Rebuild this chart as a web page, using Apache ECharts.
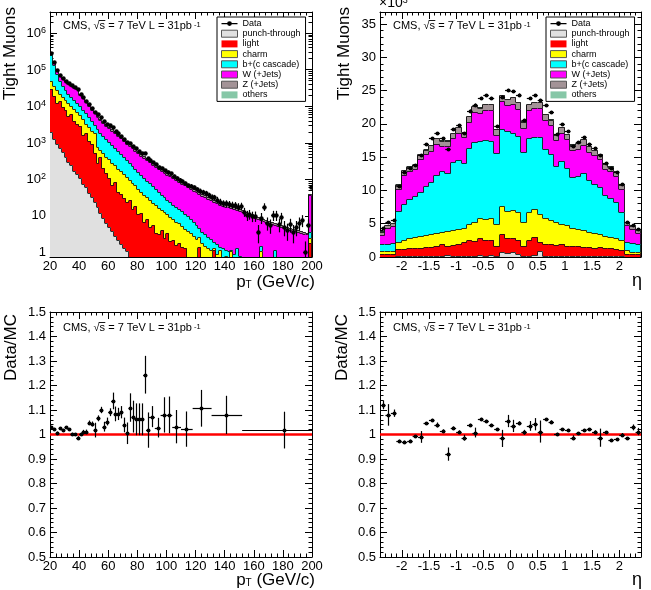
<!DOCTYPE html>
<html>
<head>
<meta charset="utf-8">
<title>Tight muons</title>
<script src="https://cdn.jsdelivr.net/npm/echarts@6/dist/echarts.min.js"></script>
<style>
  html, body { margin: 0; padding: 0; background: #fff; }
  #chart { width: 651px; height: 590px; }
</style>
</head>
<body>
<div id="chart"></div>
<script>
var FONT = "'Liberation Sans', Arial, Helvetica, sans-serif";

// ---------- pT spectrum: 2 GeV bins from 20 to 200 (last bin holds the overflow) ----------
var ptEdges = [];
for (var e = 20; e <= 200; e += 2) ptEdges.push(e);

var ptData = [2.88e5, 1.58e5, 9.55e4, 7.2e4, 5.8e4, 5.05e4, 4.4e4, 3.8e4, 3.4e4, 2.96e4,
  2.2e4, 1.77e4, 1.42e4, 1.15e4, 8970, 7020, 5970, 5060, 3920, 3370,
  3000, 2670, 2170, 1840, 1580, 1290, 1065, 1010, 837, 711,
  611, 526, 532, 379, 346, 290, 266, 222, 206, 175,
  162, 145, 124, 110, 99, 88, 78, 68, 66, 60,
  53, 49, 45, 42, 37, 33, 32, 28, 24.5, 22,
  22, 21, 20, 19.5, 18, 18.6, 13, 10.5, 11.2, 9.9,
  10, 3.7, 9, 17.9, 6.5, 5.6, 10.5, 10.5, 6, 9.1,
  5, 4.1, 5.9, 3.7, 5, 6.5, 7.7, 1, 5.6, 63];

// stacked MC heights (top edge of each layer, as drawn)
var ptPunch = [2000, 1300, 900, 700, 550, 420, 300, 240, 170, 140,
  110, 75, 60, 42, 32, 24, 17, 12, 9, 6.5,
  5, 3.8, 2.8, 2.2, 1.7, 1.3, 1.1, 0.5, 0.5, 0.5,
  0.5, 0.5, 0.5, 0.5, 0.5, 0.5, 0.5, 0.5, 0.5, 0.5,
  0.5, 0.5, 0.5, 0.5, 0.5, 0.5, 0.5, 0.5, 0.5, 0.5,
  0.5, 0.5, 0.5, 0.5, 0.5, 0.5, 0.5, 0.5, 0.5, 0.5,
  0.5, 0.5, 0.5, 0.5, 0.5, 0.5, 0.5, 0.5, 0.5, 0.5,
  0.5, 0.5, 0.5, 0.5, 0.5, 0.5, 0.5, 0.5, 0.5, 0.5,
  0.5, 0.5, 0.5, 0.5, 0.5, 0.5, 0.5, 0.5, 0.5, 0.5];
var ptLight = [2.9e4, 1.9e4, 1.2e4, 1.4e4, 9500, 8000, 5500, 6000, 4000, 3200,
  2800, 1600, 1900, 1100, 900, 520, 280, 420, 210, 150,
  110, 70, 85, 45, 40, 30, 24, 27, 15, 19,
  11, 12, 7, 8, 5, 5.5, 3.5, 3.2, 4.0, 2.5,
  3.3, 2.0, 2.2, 1.6, 1.8, 1.4, 1.3, 0.6, 0.5, 0.5,
  0.5, 1.4, 0.4, 0.4, 0.4, 0.4, 1.2, 0.3, 0.3, 0.3,
  0.3, 0.3, 0.3, 0.3, 0.3, 0.3, 0.3, 0.3, 0.3, 0.3,
  0.3, 0.3, 0.3, 0.3, 0.3, 0.3, 0.3, 0.3, 0.3, 0.3,
  0.3, 0.3, 0.3, 0.3, 0.3, 0.3, 0.3, 0.3, 0.3, 1.8];
var ptCharm = [5.0e4, 3.7e4, 2.8e4, 2.2e4, 1.8e4, 1.45e4, 1.2e4, 1.0e4, 8300, 6900,
  5600, 4400, 3300, 2700, 2100, 1800, 780, 640, 520, 420,
  350, 285, 240, 195, 165, 140, 115, 98, 80, 68,
  55, 46, 38, 32, 27, 22, 19.5, 16.5, 14.5, 12.5,
  11, 9.5, 8.2, 7, 6.2, 5.3, 4.4, 3.8, 3.3, 2.9,
  2.3, 2.6, 1.8, 1.5, 1.3, 1.15, 1.3, 0.9, 1.2, 0.6,
  0.8, 0.5, 1.1, 0.4, 0.3, 0.3, 0.3, 0.3, 0.3, 0.3,
  0.3, 0.3, 1.1, 0.3, 0.3, 0.3, 0.3, 0.3, 0.3, 0.3,
  0.3, 0.3, 0.3, 0.3, 0.3, 0.3, 0.3, 0.3, 0.3, 2.5];
var ptBottom = [2.6e5, 1.38e5, 7.6e4, 4.8e4, 3.5e4, 2.75e4, 2.2e4, 1.8e4, 1.5e4, 1.26e4,
  9900, 8000, 6600, 5100, 3900, 3000, 2350, 1900, 1500, 1250,
  1050, 870, 720, 595, 490, 410, 340, 282, 234, 194,
  161, 134, 111, 93, 78, 65, 54, 46, 38, 32,
  27, 23.5, 20.4, 17.7, 15.4, 13.3, 11.6, 9.7, 8.1, 6.7,
  5.6, 4.6, 3.7, 3.1, 2.7, 2.3, 1.95, 1.65, 1.4, 1.3,
  1.2, 1.1, 1.2, 0.9, 1.3, 0.8, 0.6, 0.5, 0.5, 0.7,
  0.4, 0.4, 1.5, 0.5, 0.4, 0.3, 0.3, 1.2, 0.3, 0.3,
  0.3, 0.3, 0.3, 0.3, 0.3, 0.3, 0.3, 0.3, 0.3, 3.7];
var ptW = [2.72e5, 1.5e5, 9.2e4, 6.7e4, 5.5e4, 4.7e4, 4.1e4, 3.65e4, 3.25e4, 2.9e4,
  2.07e4, 1.65e4, 1.32e4, 1.03e4, 8100, 6500, 5150, 4230, 3500, 2940,
  2530, 2160, 1840, 1560, 1330, 1140, 955, 820, 700, 603,
  518, 446, 385, 335, 291, 254, 222, 195, 172, 152,
  135, 121, 108, 96, 86, 76, 68, 61, 55, 49,
  44.5, 40, 36, 32.5, 29.5, 27, 24.5, 22.5, 20.5, 19.2,
  18, 17.2, 16.4, 15.5, 14.6, 13.6, 12.6, 11.5, 10.6, 9.7,
  9.0, 8.4, 7.8, 7.3, 6.9, 6.4, 6.0, 5.6, 5.3, 5.0,
  4.65, 4.4, 4.2, 3.95, 3.75, 3.55, 3.4, 3.2, 3.1, 37];
var ptZ = [2.77e5, 1.53e5, 9.4e4, 6.9e4, 5.6e4, 4.85e4, 4.25e4, 3.76e4, 3.37e4, 2.97e4,
  2.18e4, 1.73e4, 1.39e4, 1.09e4, 8500, 6830, 5540, 4550, 3760, 3170,
  2720, 2330, 1980, 1680, 1435, 1228, 1050, 900, 772, 663,
  569, 490, 424, 368, 320, 279, 245, 215, 189, 167,
  148.5, 132.5, 119, 106, 95, 85, 76, 68.3, 61.4, 55.4,
  50, 45, 40.6, 36.6, 33.2, 30.2, 27.7, 25.2, 23.3, 21.6,
  20.3, 19.3, 18.4, 17.4, 16.4, 15.3, 14.15, 13, 11.9, 10.9,
  10.1, 9.4, 8.8, 8.2, 7.7, 7.2, 6.7, 6.35, 5.95, 5.6,
  5.25, 4.95, 4.7, 4.45, 4.2, 4.0, 3.8, 3.6, 3.45, 39.5];
var ptOthers = [2.8e5, 1.55e5, 9.5e4, 7.0e4, 5.7e4, 4.9e4, 4.3e4, 3.8e4, 3.4e4, 3.0e4,
  2.2e4, 1.75e4, 1.4e4, 1.1e4, 8600, 6900, 5600, 4600, 3800, 3200,
  2750, 2350, 2000, 1700, 1450, 1240, 1060, 910, 780, 670,
  575, 495, 428, 372, 323, 282, 247, 217, 191, 169,
  150, 134, 120, 107, 96, 86, 77, 69, 62, 56,
  50.5, 45.5, 41, 37, 33.5, 30.5, 28, 25.5, 23.5, 21.8,
  20.5, 19.5, 18.6, 17.6, 16.6, 15.5, 14.3, 13.1, 12.0, 11.0,
  10.2, 9.5, 8.9, 8.3, 7.8, 7.3, 6.8, 6.4, 6.0, 5.65,
  5.3, 5.0, 4.75, 4.5, 4.25, 4.05, 3.85, 3.65, 3.5, 40];

// ---------- eta distribution: 0.1 bins from -2.4 to 2.4, values in units of 10^3 ----------
var etaEdges = [];
for (var k = -24; k <= 24; k++) etaEdges.push(k / 10);

var etaData = [4.3, 5.2, 5.6, 10.6, 12.7, 13.3, 13.8, 15.3, 16.9, 17.8, 18.6, 17.8,
  16.2, 19.2, 19.8, 18.6, 22.0, 22.9, 23.9, 24.3, 23.9, 19.7, 24.1, 25.1,
  24.9, 24.4, 20.6, 23.9, 24.3, 23.6, 22.8, 21.8, 18.5, 19.95, 18.9, 16.7,
  17.2, 18.0, 17.0, 16.3, 15.3, 14.1, 13.3, 12.7, 10.9, 5.2, 4.8, 4.2];
var etaPunch = [0.05, 0.05, 0.05, 0.1, 0.1, 0.1, 0.1, 0.1, 0.1, 0.15, 0.1, 0.15,
  0.35, 0.1, 0.15, 0.15, 0.2, 0.2, 0.3, 0.2, 0.35, 0.2, 0.8, 0.6,
  0.7, 0.4, 0.2, 0.2, 0.3, 0.9, 0.2, 0.15, 0.15, 0.1, 0.15, 0.1,
  0.1, 0.1, 0.1, 0.1, 0.1, 0.1, 0.1, 0.1, 0.1, 0.05, 0.05, 0.05];
var etaLight = [0.45, 0.5, 0.5, 1.15, 1.2, 1.3, 1.3, 1.4, 1.45, 1.5, 1.6, 2.0,
  1.7, 1.8, 1.9, 2.2, 2.6, 2.4, 2.9, 2.5, 2.6, 1.6, 3.5, 2.8,
  2.9, 2.5, 1.7, 2.6, 3.0, 2.2, 2.0, 1.9, 1.8, 1.9, 1.7, 1.6,
  1.7, 1.5, 1.5, 1.4, 1.5, 1.3, 1.3, 1.2, 1.1, 0.5, 0.45, 0.4];
var etaCharm = [0.9, 0.9, 0.95, 2.2, 2.55, 2.8, 2.95, 3.1, 3.3, 3.45, 3.6, 3.8,
  3.9, 4.1, 4.25, 4.35, 5.0, 5.3, 5.8, 5.7, 5.8, 4.9, 7.7, 6.9,
  7.0, 6.7, 5.2, 6.8, 7.2, 6.4, 5.8, 5.5, 5.2, 4.9, 4.8, 4.4,
  4.2, 4.0, 3.8, 3.6, 3.4, 3.2, 3.0, 2.8, 2.5, 1.0, 0.8, 0.7];
var etaBottom = [1.9, 2.0, 2.15, 6.9, 8.0, 8.7, 9.1, 9.8, 10.6, 11.2, 12.3, 12.9,
  12.6, 14.3, 14.6, 14.1, 16.4, 17.2, 17.4, 17.5, 17.4, 15.6, 19.3, 18.9,
  18.7, 18.1, 15.8, 17.85, 18.05, 18.05, 16.2, 15.4, 13.6, 14.4, 13.4, 12.05,
  12.15, 12.55, 11.5, 11.0, 10.5, 9.3, 8.85, 8.3, 6.7, 2.3, 2.1, 1.95];
var etaW = [3.35, 4.3, 4.65, 10.15, 12.35, 12.85, 13.15, 14.7, 15.4, 15.9, 17.0, 16.6,
  16.6, 17.8, 18.65, 17.95, 20.3, 21.8, 21.6, 22.1, 22.1, 18.3, 23.4, 22.8,
  23.05, 22.3, 19.4, 22.15, 22.4, 22.4, 20.6, 19.8, 17.55, 18.65, 17.65, 16.0,
  16.2, 16.8, 15.75, 15.35, 14.75, 13.25, 12.85, 12.2, 10.15, 4.8, 4.15, 3.65];
var etaZ = [3.8, 4.75, 5.1, 10.85, 13.05, 13.55, 13.85, 15.4, 16.1, 16.75, 17.85, 17.45,
  17.45, 18.65, 19.5, 18.8, 21.15, 22.65, 22.45, 22.95, 22.95, 19.25, 24.35, 23.75,
  24.0, 23.25, 20.35, 23.0, 23.25, 23.25, 21.45, 20.65, 18.4, 19.5, 18.5, 16.85,
  17.05, 17.65, 16.6, 16.05, 15.45, 13.95, 13.55, 12.9, 10.85, 5.25, 4.6, 4.1];
var etaOthers = [3.85, 4.8, 5.15, 10.9, 13.1, 13.6, 13.9, 15.45, 16.15, 16.8, 17.9, 17.5,
  17.5, 18.7, 19.55, 18.85, 21.2, 22.7, 22.5, 23.0, 23.0, 19.3, 24.4, 23.8,
  24.05, 23.3, 20.4, 23.05, 23.3, 23.3, 21.5, 20.7, 18.45, 19.55, 18.55, 16.9,
  17.1, 17.7, 16.65, 16.1, 15.5, 14.0, 13.6, 12.95, 10.9, 5.3, 4.65, 4.15];

// ---------- Data/MC ratios ----------
var ptRatioX = [21, 23, 25, 27, 29, 31, 33, 35, 37, 39, 41, 43, 45, 47, 49, 51, 53, 55, 57, 59,
  61, 63, 65, 67, 69, 71, 73, 75, 77, 79, 81, 83, 85,
  87, 90, 94, 98, 102, 106.5, 113.7, 123.5, 141, 181];
var ptRatioLo = [20, 22, 24, 26, 28, 30, 32, 34, 36, 38, 40, 42, 44, 46, 48, 50, 52, 54, 56, 58,
  60, 62, 64, 66, 68, 70, 72, 74, 76, 78, 80, 82, 84,
  86, 88, 92, 96, 100, 104, 110, 118, 131, 152];
var ptRatioHi = [22, 24, 26, 28, 30, 32, 34, 36, 38, 40, 42, 44, 46, 48, 50, 52, 54, 56, 58, 60,
  62, 64, 66, 68, 70, 72, 74, 76, 78, 80, 82, 84, 86,
  88, 92, 96, 100, 104, 110, 118, 131, 152, 200];
var ptRatio = [1.029, 1.022, 1.007, 1.025, 1.018, 1.029, 1.021, 1.002, 1.001, 0.987,
  1.001, 1.012, 1.012, 1.048, 1.043, 1.018, 1.066, 1.100, 1.032, 1.053,
  1.091, 1.137, 1.084, 1.084, 1.091, 1.039, 1.005, 1.110, 1.073, 1.062,
  1.062, 1.062, 1.244,
  1.018, 1.073, 1.028, 1.080, 1.080, 1.032, 1.022, 1.107, 1.080, 1.018];
var ptRatioErr = [0.005, 0.005, 0.005, 0.005, 0.005, 0.005, 0.005, 0.005, 0.005, 0.006,
  0.006, 0.007, 0.008, 0.009, 0.01, 0.03, 0.012, 0.013, 0.02, 0.016,
  0.016, 0.034, 0.03, 0.025, 0.025, 0.03, 0.044, 0.058, 0.065, 0.065,
  0.065, 0.065, 0.077,
  0.072, 0.043, 0.04, 0.072, 0.075, 0.068, 0.072, 0.075, 0.078, 0.075];

var etaRatio = [1.121, 1.080, 1.087, 0.975, 0.971, 0.975, 0.992, 0.990, 1.046, 1.059, 1.039, 1.016,
  0.920, 1.028, 1.012, 0.987, 1.039, 1.008, 1.063, 1.055, 1.039, 1.021, 0.984, 1.055,
  1.035, 1.046, 1.009, 1.035, 1.042, 1.012, 1.062, 1.053, 1.002, 1.021, 1.018, 0.987,
  1.005, 1.018, 1.021, 1.012, 0.987, 1.009, 0.977, 0.980, 0.998, 0.984, 1.029, 1.012];
var etaRatioErr = [0.018, 0.044, 0.015, 0.004, 0.004, 0.004, 0.006, 0.024, 0.005, 0.005, 0.01, 0.005,
  0.027, 0.005, 0.005, 0.012, 0.005, 0.02, 0.005, 0.005, 0.005, 0.005, 0.035, 0.025,
  0.025, 0.008, 0.01, 0.02, 0.025, 0.045, 0.005, 0.005, 0.005, 0.005, 0.005, 0.01,
  0.005, 0.005, 0.005, 0.005, 0.037, 0.005, 0.005, 0.005, 0.008, 0.005, 0.012, 0.015];
var ratioRef = 1;

// ---------- axis ticks / labels ----------
var ptTicks = [20, 40, 60, 80, 100, 120, 140, 160, 180, 200];
var logTicks = [1, 10, 100, 1000, 10000, 100000, 1000000];
var etaTicks = [-2, -1.5, -1, -0.5, 0, 0.5, 1, 1.5, 2];
var etaYTicks = [0, 5, 10, 15, 20, 25, 30, 35];
var ratioTicks = [0.5, 0.6, 0.7, 0.8, 0.9, 1, 1.1, 1.2, 1.3, 1.4, 1.5];

var LAYERS = ['punch-through', 'light', 'charm', 'b+(c cascade)', 'W (+Jets)', 'Z (+Jets)', 'others'];
var COLORS = ['#e0e0e0', '#ff0000', '#ffff00', '#00ffff', '#ff00ff', '#a39397', '#86c7a7'];
var BORDERS = ['#555', null, '#555', '#555', '#555', '#555', null];

function steps(min, max, step) {
  var out = [];
  for (var v = Math.ceil(min / step - 1e-9) * step; v <= max + 1e-9; v += step) out.push(Math.round(v * 1000) / 1000);
  return out;
}
function without(list, majors) {
  return list.filter(function (v) { return majors.indexOf(v) < 0; });
}
function logMinors(min, max) {
  var out = [];
  for (var d = 0.1; d <= 1e6; d *= 10) {
    for (var m = 2; m <= 9; m++) {
      var v = Math.round(m * d * 10) / 10;
      if (v >= min && v <= max) out.push(v);
    }
  }
  return out;
}

var RICH = {
  b: {fontSize: 13, fontFamily: FONT, color: '#000', lineHeight: 14, verticalAlign: 'bottom'},
  s: {fontSize: 9, fontFamily: FONT, color: '#000', lineHeight: 9, verticalAlign: 'top', padding: [0, 0, 7, 0]}
};

var xAxes = [], yAxes = [];
function axisPair(list, grid, pos, type, min, max, majors, minors, fmt) {
  var idx = list.length;
  var common = {type: type, gridIndex: grid, position: pos, min: min, max: max,
    splitLine: {show: false}, axisPointer: {show: false}};
  if (type === 'log') common.logBase = 10;
  list.push(Object.assign({}, common, {
    axisLine: {show: true, onZero: false, lineStyle: {color: '#000', width: 1}},
    axisTick: {show: true, inside: true, length: 7, customValues: majors, lineStyle: {color: '#000', width: 1}},
    axisLabel: fmt ? {show: true, customValues: majors, formatter: fmt, margin: pos === 'bottom' ? 3 : 4,
      color: '#000', fontSize: 13, fontFamily: FONT, rich: RICH} : {show: false}
  }));
  list.push(Object.assign({}, common, {
    axisLine: {show: false, onZero: false},
    axisTick: {show: true, inside: true, length: 3.5, customValues: minors, lineStyle: {color: '#000', width: 1}},
    axisLabel: {show: false}
  }));
  return idx;
}
function panel(g, xt, x0, x1, xMaj, xMin, xFmt, yt, y0, y1, yMaj, yMin, yFmt) {
  var xi = axisPair(xAxes, g, 'bottom', xt, x0, x1, xMaj, xMin, xFmt);
  axisPair(xAxes, g, 'top', xt, x0, x1, xMaj, xMin, null);
  var yi = axisPair(yAxes, g, 'left', yt, y0, y1, yMaj, yMin, yFmt);
  axisPair(yAxes, g, 'right', yt, y0, y1, yMaj, yMin, null);
  return {x: xi, y: yi};
}
var plain = function (v) { return String(Math.round(v * 100) / 100); };
var logFmt = function (v) {
  var n = Math.round(Math.log(v) / Math.LN10);
  if (n === 0) return '1';
  if (n === 1) return '10';
  return '{b|10}{s|' + n + '}';
};

var LOG_MIN = 0.75, LOG_MAX = 3.8e6, ETA_MAX = 36.8;
var pA = panel(0, 'value', 20, 200, ptTicks, without(steps(20, 200, 4), ptTicks), plain,
  'log', LOG_MIN, LOG_MAX, logTicks, logMinors(LOG_MIN, LOG_MAX), logFmt);
var pB = panel(1, 'value', -2.4, 2.4, etaTicks, without(steps(-2.4, 2.4, 0.1), etaTicks), plain,
  'value', 0, ETA_MAX, etaYTicks, without(steps(0, ETA_MAX, 1), etaYTicks), plain);
var pC = panel(2, 'value', 20, 200, ptTicks, without(steps(20, 200, 4), ptTicks), plain,
  'value', 0.5, 1.5, ratioTicks, without(steps(0.5, 1.5, 0.02), ratioTicks), plain);
var pD = panel(3, 'value', -2.4, 2.4, etaTicks, without(steps(-2.4, 2.4, 0.1), etaTicks), plain,
  'value', 0.5, 1.5, ratioTicks, without(steps(0.5, 1.5, 0.02), ratioTicks), plain);

// ---------- series builders ----------
function histSeries(name, color, edges, tops, ax, floor) {
  var data = tops.map(function (v, i) {
    return [edges[i], edges[i + 1], v, i + 1 < tops.length ? tops[i + 1] : floor];
  });
  return {
    name: name, type: 'custom', xAxisIndex: ax.x, yAxisIndex: ax.y, clip: true, silent: true,
    itemStyle: {color: color}, encode: {x: [0, 1], y: 2}, data: data,
    renderItem: function (params, api) {
      var v = Math.max(api.value(2), floor), vn = Math.max(api.value(3), floor);
      var a = api.coord([api.value(0), v]);
      var b = api.coord([api.value(1), floor]);
      var c = api.coord([api.value(1), vn]);
      var x0 = Math.round(a[0]), x1 = Math.round(b[0]);
      var yt = Math.round(a[1]), yb = Math.round(b[1]), yn = Math.round(c[1]);
      return {type: 'group', children: [
        {type: 'rect', shape: {x: x0, y: yt, width: x1 - x0, height: yb - yt}, style: {fill: color}},
        {type: 'polyline', shape: {points: [[x0, yt + 0.5], [x1 - 0.5, yt + 0.5], [x1 - 0.5, yn + 0.5]]},
          style: {stroke: '#111', lineWidth: 1, fill: null, opacity: 0.85}}
      ]};
    }
  };
}
function pointSeries(name, pts, ax, floor, r) {
  // each point: [x, xLow, xHigh, y, yLow, yHigh]
  return {
    name: name, type: 'custom', xAxisIndex: ax.x, yAxisIndex: ax.y, clip: true, silent: true, z: 5,
    itemStyle: {color: '#000'}, encode: {x: 0, y: 3}, data: pts,
    renderItem: function (params, api) {
      var x = api.value(0), y = api.value(3);
      var c = api.coord([x, y]);
      var l = api.coord([api.value(1), y]), rr = api.coord([api.value(2), y]);
      var lo = api.coord([x, Math.max(api.value(4), floor)]), hi = api.coord([x, api.value(5)]);
      var cx = Math.round(c[0]) + 0.5, cy = Math.round(c[1]) + 0.5;
      return {type: 'group', children: [
        {type: 'line', shape: {x1: cx, y1: lo[1], x2: cx, y2: hi[1]}, style: {stroke: '#000', lineWidth: 1.2}},
        {type: 'line', shape: {x1: l[0], y1: cy, x2: rr[0], y2: cy}, style: {stroke: '#000', lineWidth: 1.2}},
        {type: 'circle', shape: {cx: cx, cy: cy, r: r}, style: {fill: '#000'}}
      ]};
    }
  };
}
function refLine(x0, x1, ax) {
  return {type: 'line', xAxisIndex: ax.x, yAxisIndex: ax.y, silent: true, z: 3, symbol: 'none',
    data: [[x0, ratioRef], [x1, ratioRef]], lineStyle: {color: '#ff0000', width: 2.5}};
}

var series = [];
var ptStack = [ptPunch, ptLight, ptCharm, ptBottom, ptW, ptZ, ptOthers];
var etaStack = [etaPunch, etaLight, etaCharm, etaBottom, etaW, etaZ, etaOthers];
for (var s = LAYERS.length - 1; s >= 0; s--) {
  series.push(histSeries(LAYERS[s], COLORS[s], ptEdges, ptStack[s], pA, LOG_MIN));
  series.push(histSeries(LAYERS[s], COLORS[s], etaEdges, etaStack[s], pB, 0));
}
series.push(pointSeries('Data', ptData.map(function (v, i) {
  var lo = ptEdges[i], hi = ptEdges[i + 1], err = Math.sqrt(v);
  return [(lo + hi) / 2, lo, hi, v, v - err, v + err];
}), pA, LOG_MIN, 2.2));
series.push(pointSeries('Data', etaData.map(function (v, i) {
  var lo = etaEdges[i], hi = etaEdges[i + 1], err = Math.sqrt(v * 1000) / 1000;
  return [(lo + hi) / 2, lo, hi, v, v - err, v + err];
}), pB, 0, 2));
series.push(refLine(20, 200, pC));
series.push(refLine(-2.4, 2.4, pD));
series.push(pointSeries('ratio pT', ptRatio.map(function (v, i) {
  return [ptRatioX[i], ptRatioLo[i], ptRatioHi[i], v, v - ptRatioErr[i], v + ptRatioErr[i]];
}), pC, 0.5, 2));
series.push(pointSeries('ratio eta', etaRatio.map(function (v, i) {
  var lo = etaEdges[i], hi = etaEdges[i + 1];
  return [(lo + hi) / 2, lo, hi, v, v - etaRatioErr[i], v + etaRatioErr[i]];
}), pD, 0.5, 2));

// ---------- legends ----------
var DATA_ICON = 'path://M0,3L16,3L16,4.2L0,4.2Z M10.4,3.6A2.4,2.4,0,1,1,5.6,3.6A2.4,2.4,0,1,1,10.4,3.6Z M0,0L0.01,0L0,0.01Z M0,7L0.01,7L0,6.99Z';
var legendItems = [{name: 'Data', icon: DATA_ICON, itemStyle: {color: '#000', borderWidth: 0}}];
LAYERS.forEach(function (n, i) {
  legendItems.push({name: n, icon: 'rect', itemStyle: {color: COLORS[i],
    borderColor: BORDERS[i] || COLORS[i], borderWidth: BORDERS[i] ? 1 : 0}});
});
function legendAt(left) {
  return {orient: 'vertical', left: left, top: 17, padding: [2, 5, 2, 4],
    itemWidth: 16, itemHeight: 7, itemGap: 1.2, selectedMode: false,
    backgroundColor: '#fff', borderColor: '#000', borderWidth: 1, borderRadius: 0,
    textStyle: {fontSize: 9, fontFamily: FONT, color: '#000', lineHeight: 9},
    data: legendItems};
}

// ---------- texts ----------
function txt(x, y, text, size, align, vAlign, rot, rich) {
  return {type: 'text', x: x, y: y, rotation: rot || 0, silent: true, z: 10,
    style: {text: text, fontSize: size, fontFamily: FONT, fill: '#000',
      align: align, textAlign: align, verticalAlign: vAlign, textVerticalAlign: vAlign, rich: rich || {}}};
}
function overline(x, y) {
  return {type: 'line', silent: true, z: 10, shape: {x1: x, y1: y, x2: x + 6.5, y2: y},
    style: {stroke: '#000', lineWidth: 0.9}};
}
var cmsRich = {
  n: {fontSize: 11, fontFamily: FONT, fill: '#000'},
  p: {fontSize: 7.5, fontFamily: FONT, fill: '#000', verticalAlign: 'top', lineHeight: 8, padding: [0, 0, 5, 2]}
};
var CMS = '{n|CMS, \u221As = 7 TeV L = 31pb}{p|-1}';
var ptRich = {
  a: {fontSize: 17, fontFamily: FONT, fill: '#000', lineHeight: 17, verticalAlign: 'top'},
  t: {fontSize: 10, fontFamily: FONT, fill: '#000', lineHeight: 10, verticalAlign: 'bottom'}
};
var expRich = {
  a: {fontSize: 14, fontFamily: FONT, fill: '#000', lineHeight: 14, verticalAlign: 'bottom'},
  e: {fontSize: 9, fontFamily: FONT, fill: '#000', lineHeight: 9, verticalAlign: 'top', padding: [0, 0, 8, 0]}
};
var graphics = [
  txt(2, 7, 'Tight Muons', 17, 'right', 'top', Math.PI / 2),
  txt(336, 7, 'Tight Muons', 17, 'right', 'top', Math.PI / 2),
  txt(3, 314, 'Data/MC', 17, 'right', 'top', Math.PI / 2),
  txt(334, 314, 'Data/MC', 17, 'right', 'top', Math.PI / 2),
  txt(63, 26, CMS, 11, 'left', 'middle', 0, cmsRich),
  txt(393, 26, CMS, 11, 'left', 'middle', 0, cmsRich),
  txt(63, 328, CMS, 11, 'left', 'middle', 0, cmsRich),
  txt(393, 328, CMS, 11, 'left', 'middle', 0, cmsRich),
  overline(98.8, 20.5), overline(428.8, 20.5), overline(98.8, 322.5), overline(428.8, 322.5),
  txt(315, 282, '{a|p}{t|T}{a| (GeV/c)}', 17, 'right', 'middle', 0, ptRich),
  txt(315, 580, '{a|p}{t|T}{a| (GeV/c)}', 17, 'right', 'middle', 0, ptRich),
  txt(642, 281, '\u03b7', 18, 'right', 'middle'),
  txt(642, 580, '\u03b7', 18, 'right', 'middle'),
  txt(379, 3, '{a|\u00d710}{e|3}', 14, 'left', 'middle', 0, expRich)
];

var chart = echarts.init(document.getElementById('chart'), null, {renderer: 'canvas'});
chart.setOption({
  animation: false,
  backgroundColor: '#fff',
  textStyle: {fontFamily: FONT},
  grid: [
    {left: 50, top: 12, width: 262, height: 245, containLabel: false, outerBoundsMode: 'none'},
    {left: 380, top: 12, width: 261, height: 245, containLabel: false, outerBoundsMode: 'none'},
    {left: 50, top: 312, width: 262, height: 245, containLabel: false, outerBoundsMode: 'none'},
    {left: 380, top: 312, width: 261, height: 245, containLabel: false, outerBoundsMode: 'none'}
  ],
  xAxis: xAxes,
  yAxis: yAxes,
  legend: [legendAt(217), legendAt(546)],
  graphic: graphics,
  series: series
});
</script>
</body>
</html>
